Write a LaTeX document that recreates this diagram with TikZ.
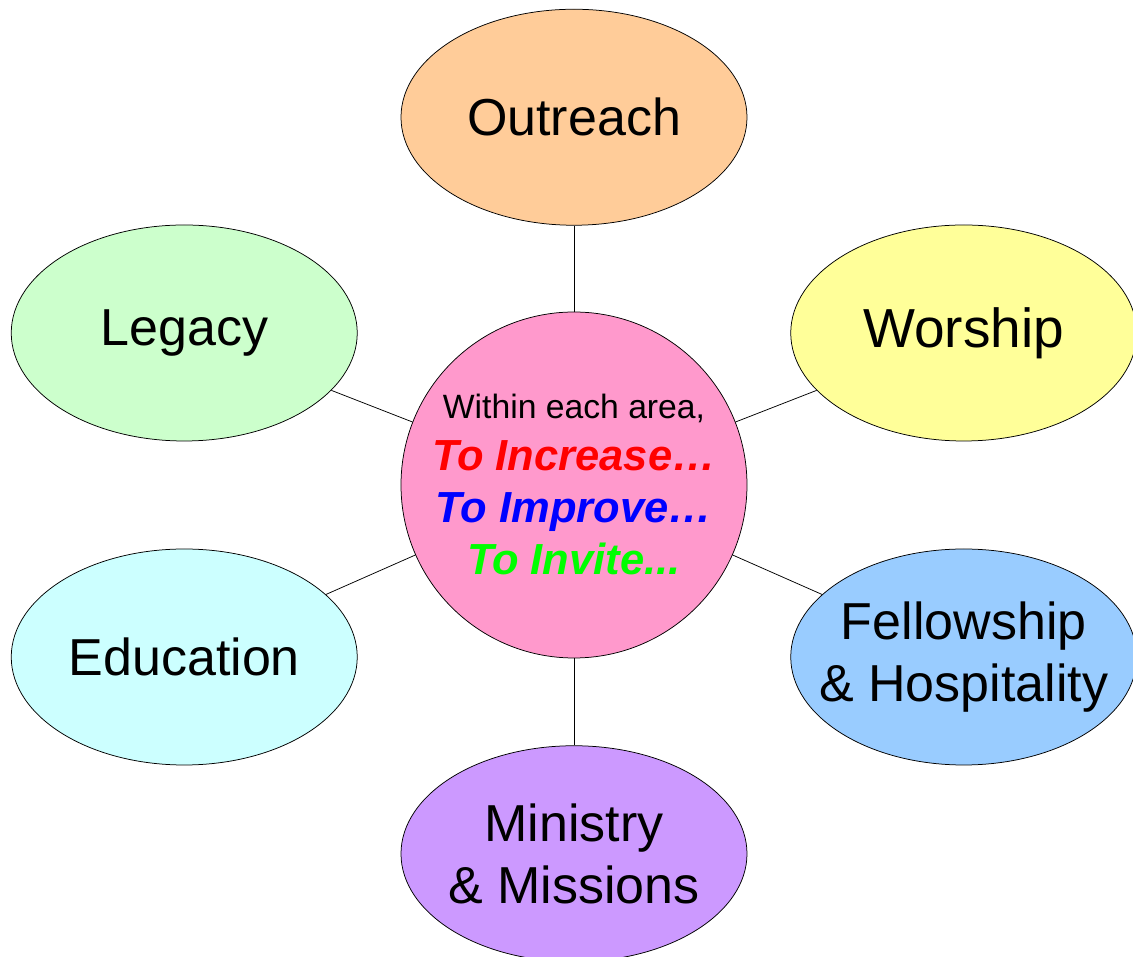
\documentclass[tikz,border=0pt]{standalone}
\usepackage{fontspec}
\setmainfont{Liberation Sans}
\usetikzlibrary{positioning,shapes.geometric}
\definecolor{outreachc}{HTML}{FFCC99}
\definecolor{legacyc}{HTML}{CCFFCC}
\definecolor{worshipc}{HTML}{FFFF99}
\definecolor{educationc}{HTML}{CCFFFF}
\definecolor{fellowc}{HTML}{99CCFF}
\definecolor{ministryc}{HTML}{CC99FF}
\definecolor{hubc}{HTML}{FF99CC}
\definecolor{increasec}{HTML}{FF0000}
\definecolor{improvec}{HTML}{0000FF}
\definecolor{invitec}{HTML}{00FF00}

\begin{document}
\begin{tikzpicture}[
  line width=0.75pt,
  area/.style={ellipse, draw, minimum width=346pt, minimum height=216pt,
    inner sep=0pt, label={[area text]center:#1}},
  area text/.style={align=center, font=\fontsize{52}{62}\selectfont},
  hub/.style={circle, draw, minimum size=346pt, inner sep=0pt, align=center,
    font=\fontsize{43.5}{52}\selectfont}]
  \useasboundingbox (-574pt,-472pt) rectangle (559pt,485pt);
  % the hub in the middle
  \node (center) [hub, fill=hubc] {%
    {\fontsize{33.7}{52}\selectfont Within each area,}\\
    {\bfseries\itshape\color{increasec}To Increase…}\\
    {\bfseries\itshape\color{improvec}To Improve…}\\
    {\bfseries\itshape\color{invitec}To Invite...}};
  % the six areas round it
  \node (outreach) [area=Outreach, fill=outreachc, above=86pt of center] {}
  edge (center);
  \node (legacy) [area=Legacy, fill=legacyc, left=43pt of center, yshift=152pt] {}
  edge (center);
  \node (worship) [area={\fontsize{55}{62}\selectfont Worship}, fill=worshipc, right=43pt of center, yshift=152pt] {}
  edge (center);
  \node (education) [area=Education, fill=educationc, left=43pt of center, yshift=-172pt] {}
  edge (center);
  \node (fellow) [area={Fellowship\\\& Hospitality}, fill=fellowc, right=43pt of center, yshift=-172pt] {}
  edge (center);
  \node (ministry) [area={Ministry\\\& Missions}, fill=ministryc, below=87pt of center] {}
  edge (center);
\end{tikzpicture}
\end{document}
